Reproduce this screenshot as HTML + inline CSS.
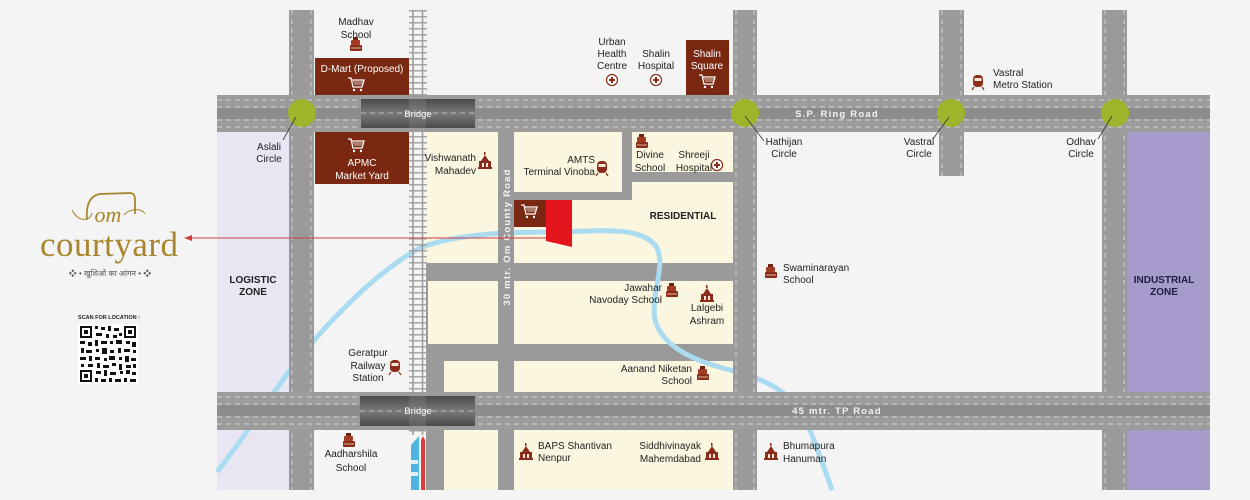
<!DOCTYPE html>
<html><head><meta charset="utf-8"><style>
html,body{margin:0;padding:0;background:#f4f4f4;}
svg{display:block;font-family:"Liberation Sans","Noto Sans CJK SC",sans-serif;}
.l{font-size:10px;fill:#222;}
.w{font-size:10px;fill:#fff;}
.z{font-size:10px;font-weight:bold;fill:#222;}
.rd{font-size:9.5px;font-weight:bold;fill:#f4f4f4;letter-spacing:1.2px;}
</style></head><body>
<svg width="1250" height="500" viewBox="0 0 1250 500" xmlns="http://www.w3.org/2000/svg">
<defs>
 <g id="school"><rect x="-6" y="-2" width="12" height="6" rx="1" fill="#8b2d1a"/><rect x="-5" y="-7" width="9" height="5" rx="1" fill="#a33a22"/><rect x="-3" y="-10" width="5" height="3" fill="#6e2212"/><line x1="-5" y1="1" x2="5" y2="1" stroke="#f0d8c0" stroke-width="0.8"/></g>
 <g id="temple"><path d="M-7 6 L7 6 L7 4 L-7 4Z M-6 4 L-6 -2 L6 -2 L6 4Z M-4 -2 L0 -8 L4 -2Z" fill="#8b2d1a"/><rect x="-1" y="-11" width="1.5" height="3" fill="#8b2d1a"/><rect x="-3" y="0" width="2" height="4" fill="#f4e8d8"/><rect x="1" y="0" width="2" height="4" fill="#f4e8d8"/></g>
 <g id="plus"><circle r="5.5" fill="#fff" stroke="#8b2d1a" stroke-width="1.2"/><path d="M-3 0H3M0 -3V3" stroke="#8b2d1a" stroke-width="2"/></g>
 <g id="train"><rect x="-5" y="-7" width="10" height="12" rx="4" fill="#8b2d1a"/><rect x="-3.5" y="-4" width="7" height="3" fill="#f4e8d8"/><path d="M-4 5l-2 3M4 5l2 3" stroke="#8b2d1a" stroke-width="1.2"/></g>
 <g id="cart"><path d="M-8 -6 H-5 L-3 3 H6 L8 -4 H-4.5" fill="none" stroke="#fff" stroke-width="1.3"/><path d="M-3 -2H7M-2 0H6" stroke="#fff" stroke-width="0.8"/><circle cx="-2" cy="6" r="1.2" fill="#fff"/><circle cx="5" cy="6" r="1.2" fill="#fff"/></g>
 <linearGradient id="br" x1="0" y1="0" x2="0" y2="1"><stop offset="0" stop-color="#4a4a4a"/><stop offset="0.5" stop-color="#7a7a7a"/><stop offset="1" stop-color="#4a4a4a"/></linearGradient>
</defs>

<rect x="217" y="132" width="72" height="358" fill="#e8e6f3"/>
<rect x="1127" y="132" width="83" height="358" fill="#a69bcb"/>

<rect x="426" y="132" width="307" height="358" fill="#9a9a9a"/>
<g fill="#fbf6e0">
 <rect x="426" y="132" width="72" height="131"/>
 <rect x="514" y="132" width="108" height="60"/>
 <rect x="632" y="132" width="101" height="40"/>
 <rect x="514" y="200" width="219" height="63"/>
 <rect x="632" y="182" width="101" height="20"/>
 <rect x="428" y="281" width="70" height="63"/>
 <rect x="514" y="281" width="219" height="63"/>
 <rect x="444" y="361" width="54" height="31"/>
 <rect x="514" y="361" width="219" height="31"/>
 <rect x="444" y="430" width="54" height="60"/>
 <rect x="514" y="430" width="219" height="60"/>
</g>

<path d="M217 472 C250 430 280 380 310 345 C340 310 380 270 420 248 C460 232 520 232 560 232 C610 230 640 228 655 245 C668 262 650 295 655 320 C662 345 690 360 730 370 C770 380 795 395 808 425 C818 450 825 470 832 490" fill="none" stroke="#aadbf0" stroke-width="5"/>

<g fill="#9a9a9a">
 <rect x="289" y="10" width="25" height="480"/>
 <rect x="733" y="10" width="24" height="480"/>
 <rect x="939" y="10" width="25" height="166"/>
 <rect x="1102" y="10" width="25" height="480"/>
 <rect x="498" y="132" width="16" height="358"/>
</g>
<g stroke="#cdcdcd" stroke-width="1" stroke-dasharray="5,4">
 <path d="M292 10V490M311 10V490M736 10V490M754 10V490M942 10V176M961 10V176M1105 10V490M1124 10V490"/>
</g>

<!-- railway -->
<path d="M418 10V435" stroke="#a5a5a5" stroke-width="18" stroke-dasharray="1.5,4.5" fill="none"/>
<path d="M413 10V435M422.5 10V435" stroke="#9c9c9c" stroke-width="1.6" fill="none"/>

<path d="M411 490V445L419 436V490Z" fill="#4fb3e0"/>
<rect x="411" y="460" width="7" height="4" fill="#dfeff7"/>
<rect x="411" y="472" width="7" height="4" fill="#dfeff7"/>
<path d="M421 490V440L423 436L425 440V490Z" fill="#e03a3a"/>

<g>
 <rect x="217" y="95" width="993" height="37" fill="#9c9c9c"/>
 <rect x="217" y="108" width="993" height="11" fill="#8c8c8c"/>
 <rect x="217" y="392" width="993" height="38" fill="#9c9c9c"/>
 <rect x="217" y="405" width="993" height="11" fill="#8c8c8c"/>
 <g stroke="#d2d2d2" stroke-width="1" stroke-dasharray="5,4">
  <path d="M217 100H1210M217 107H1210M217 120H1210M217 127H1210"/>
  <path d="M217 397H1210M217 404H1210M217 417H1210M217 424H1210"/>
 </g>
 <rect x="361" y="99" width="114" height="29" fill="url(#br)"/>
 <rect x="360" y="396" width="115" height="30" fill="url(#br)"/>
 <path d="M361 113H475M360 411H475" stroke="#bbb" stroke-dasharray="5,4"/>
 <rect x="409" y="99" width="17" height="29" fill="#888" opacity="0.35"/>
 <rect x="409" y="396" width="17" height="30" fill="#888" opacity="0.35"/>
</g>
<text x="418" y="117" class="w" text-anchor="middle" style="font-size:9.5px">Bridge</text>
<text x="418" y="414" class="w" text-anchor="middle" style="font-size:9.5px">Bridge</text>
<text x="837" y="117" class="rd" text-anchor="middle">S.P. Ring Road</text>
<text x="837" y="414" class="rd" text-anchor="middle">45 mtr. TP Road</text>
<text transform="translate(510,237) rotate(-90)" class="rd" text-anchor="middle">30 mtr. Om County Road</text>

<g fill="#9cb52a">
 <circle cx="302" cy="113" r="14"/><circle cx="745" cy="113" r="14"/><circle cx="951" cy="113" r="14"/><circle cx="1115" cy="113" r="14"/>
</g>
<g stroke="#333" stroke-width="0.8">
 <path d="M296 117L283 140M745 116L764 141M949 117L933 139M1112 116L1098 139"/>
</g>

<g fill="#7a2812">
 <rect x="315" y="58" width="94" height="37"/>
 <rect x="315" y="132" width="94" height="52"/>
 <rect x="686" y="40" width="43" height="55"/>
 <rect x="514" y="200" width="32" height="27"/>
</g>
<path d="M546 200H572V247L546 241Z" fill="#e3141b"/>
<text x="362" y="72" class="w" text-anchor="middle">D-Mart (Proposed)</text>
<use href="#cart" x="356" y="84"/>
<use href="#cart" x="356" y="145"/>
<text x="362" y="166" class="w" text-anchor="middle">APMC</text>
<text x="362" y="179" class="w" text-anchor="middle">Market Yard</text>
<text x="707" y="57" class="w" text-anchor="middle">Shalin</text>
<text x="707" y="69" class="w" text-anchor="middle">Square</text>
<use href="#cart" x="707" y="81"/>
<use href="#cart" x="529" y="211"/>

<path d="M190 238H546" stroke="#d23b3f" stroke-width="1"/>
<path d="M184 238L192 235V241Z" fill="#d23b3f"/>

<g class="l" text-anchor="middle">
 <text x="356" y="25">Madhav</text><text x="356" y="38">School</text>
 <text x="269" y="150">Aslali</text><text x="269" y="162">Circle</text>
 <text x="612" y="45">Urban</text><text x="612" y="57">Health</text><text x="612" y="69">Centre</text>
 <text x="656" y="57">Shalin</text><text x="656" y="69">Hospital</text>
 <text x="650" y="158">Divine</text><text x="650" y="171">School</text>
 <text x="694" y="158">Shreeji</text><text x="694" y="171">Hospital</text>
 <text x="784" y="145">Hathijan</text><text x="784" y="157">Circle</text>
 <text x="919" y="145">Vastral</text><text x="919" y="157">Circle</text>
 <text x="1081" y="145">Odhav</text><text x="1081" y="157">Circle</text>
 <text x="707" y="311">Lalgebi</text><text x="707" y="324">Ashram</text>
 <text x="368" y="356">Geratpur</text><text x="368" y="369">Railway</text><text x="368" y="381">Station</text>
 <text x="351" y="457">Aadharshila</text><text x="351" y="471">School</text>
</g>
<g class="l" text-anchor="end">
 <text x="476" y="161">Vishwanath</text><text x="476" y="174">Mahadev</text>
 <text x="595" y="163">AMTS</text><text x="595" y="175">Terminal Vinoba</text>
 <text x="662" y="291">Jawahar</text><text x="662" y="303">Navoday School</text>
 <text x="692" y="372">Aanand Niketan</text><text x="692" y="384">School</text>
 <text x="701" y="449">Siddhivinayak</text><text x="701" y="462">Mahemdabad</text>
</g>
<g class="l">
 <text x="993" y="76">Vastral</text><text x="993" y="88">Metro Station</text>
 <text x="783" y="271">Swaminarayan</text><text x="783" y="283">School</text>
 <text x="538" y="449">BAPS Shantivan</text><text x="538" y="461">Nenpur</text>
 <text x="783" y="449">Bhumapura</text><text x="783" y="462">Hanuman</text>
</g>
<text x="683" y="219" class="z" text-anchor="middle">RESIDENTIAL</text>
<text x="253" y="283" class="z" text-anchor="middle" style="fill:#1f1f1f">LOGISTIC</text>
<text x="253" y="295" class="z" text-anchor="middle" style="fill:#1f1f1f">ZONE</text>
<text x="1164" y="283" class="z" text-anchor="middle" style="fill:#1d1d45">INDUSTRIAL</text>
<text x="1164" y="295" class="z" text-anchor="middle" style="fill:#1d1d45">ZONE</text>

<use href="#school" x="356" y="47"/>
<use href="#plus" x="612" y="80"/>
<use href="#plus" x="656" y="80"/>
<use href="#temple" x="485" y="163"/>
<use href="#train" x="602" y="168"/>
<use href="#school" x="642" y="144"/>
<use href="#plus" x="717" y="165"/>
<use href="#train" x="978" y="82"/>
<use href="#school" x="771" y="274"/>
<use href="#school" x="672" y="293"/>
<use href="#temple" x="707" y="296"/>
<use href="#train" x="395" y="367"/>
<use href="#school" x="703" y="376"/>
<use href="#school" x="349" y="443"/>
<use href="#temple" x="526" y="454"/>
<use href="#temple" x="712" y="454"/>
<use href="#temple" x="771" y="454"/>

<path d="M87 220 C86 208 88 196 100 194 L130 193 C134 193 135 196 135 200 L135 214" fill="none" stroke="#a8862e" stroke-width="1.8"/>
<path d="M72 210 C78 222 90 222 92 213" fill="none" stroke="#a8862e" stroke-width="1"/>
<path d="M124 215 C130 208 142 208 145 214" fill="none" stroke="#a8862e" stroke-width="1"/>
<text x="108" y="222" text-anchor="middle" style="font-family:'Liberation Serif',serif;font-style:italic;font-size:22px;fill:#a8862e">om</text>
<text x="109" y="256" text-anchor="middle" textLength="138" style="font-family:'Liberation Serif',serif;font-size:35px;fill:#a8862e">courtyard</text>
<text x="110" y="276" text-anchor="middle" style="font-family:'Liberation Sans','Noto Sans CJK SC',sans-serif;font-size:8px;fill:#555">❖ • खुशिओ का आंगन • ❖</text>
<text x="109" y="319" text-anchor="middle" style="font-size:5.5px;font-weight:bold;fill:#222">SCAN FOR LOCATION :</text>
<rect x="78" y="324" width="60" height="60" fill="#fff"/>
<g fill="#111">
 <rect x="80" y="326" width="12" height="12"/><rect x="124" y="326" width="12" height="12"/><rect x="80" y="370" width="12" height="12"/>
</g>
<g fill="#fff"><rect x="82" y="328" width="8" height="8"/><rect x="126" y="328" width="8" height="8"/><rect x="82" y="372" width="8" height="8"/></g>
<g fill="#111"><rect x="84" y="330" width="4" height="4"/><rect x="128" y="330" width="4" height="4"/><rect x="84" y="374" width="4" height="4"/></g>
<g fill="#111">
 <path d="M95 326h3v3h-3zM101 327h4v3h-4zM108 326h3v5h-3zM114 328h5v3h-5zM96 333h6v3h-6zM106 334h3v4h-3zM113 335h4v3h-4zM119 333h3v3h-3z"/>
 <path d="M80 341h5v3h-5zM88 342h4v4h-4zM95 340h3v6h-3zM101 341h6v3h-6zM110 341h3v3h-3zM116 340h6v4h-6zM126 341h4v3h-4zM132 342h4v5h-4z"/>
 <path d="M81 348h3v5h-3zM86 350h6v3h-6zM96 349h3v3h-3zM102 348h5v6h-5zM110 350h4v3h-4zM118 348h3v5h-3zM124 349h6v3h-6zM133 350h3v3h-3z"/>
 <path d="M80 357h6v3h-6zM89 356h3v5h-3zM95 357h5v3h-5zM104 358h3v3h-3zM109 356h6v4h-6zM119 357h3v3h-3zM125 356h4v6h-4zM131 358h5v3h-5z"/>
 <path d="M81 364h3v3h-3zM88 364h5v3h-5zM97 363h3v5h-3zM103 365h6v3h-6zM112 363h4v3h-4zM119 364h3v6h-3zM126 365h5v3h-5zM133 364h3v4h-3z"/>
 <path d="M96 371h5v3h-5zM104 370h3v6h-3zM110 372h6v3h-6zM120 371h3v3h-3zM126 370h4v4h-4zM132 372h4v3h-4z"/>
 <path d="M95 378h3v4h-3zM101 379h5v3h-5zM109 378h3v4h-3zM115 379h6v3h-6zM124 378h3v4h-3zM130 379h6v3h-6z"/>
</g>
</svg>
</body></html>
